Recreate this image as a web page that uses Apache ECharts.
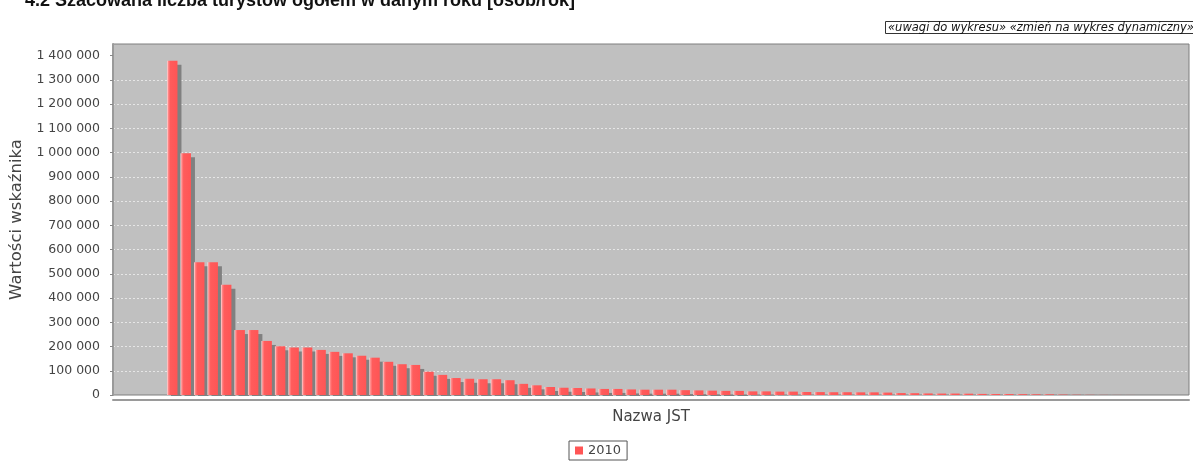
<!DOCTYPE html>
<html><head><meta charset="utf-8">
<script src="https://cdn.jsdelivr.net/npm/echarts@6/dist/echarts.min.js"></script>
<style>html,body{margin:0;padding:0;background:#fff}#c{width:1193px;height:462px}</style>
</head><body><div id="c"></div>
<script>
const titleText = '4.2 Szacowana liczba turystów ogółem w danym roku [osób/rok]';
const linksText = '«uwagi do wykresu» «zmień na wykres dynamiczny»';
const seriesName = '2010';
const yAxisName = 'Wartości wskaźnika';
const xAxisName = 'Nazwa JST';
const categories = ['1','2','3','4','5','6','7','8','9','10','11','12','13','14','15','16','17','18','19','20',
  '21','22','23','24','25','26','27','28','29','30','31','32','33','34','35','36','37','38','39','40',
  '41','42','43','44','45','46','47','48','49','50','51','52','53','54','55','56','57','58','59','60',
  '61','62','63','64','65','66','67','68','69','70','71','72'];
const values2010 = [1379000, 997000, 548000, 548000, 455000, 268000, 268000, 223000, 201000, 196000,
  196000, 186000, 178000, 172000, 162000, 154000, 137000, 127000, 124000, 96000,
  83000, 70000, 67000, 65000, 65000, 61000, 46000, 40000, 33000, 30000,
  29000, 27000, 25000, 25000, 23000, 22000, 22000, 22000, 20000, 19000,
  18000, 17000, 17000, 15000, 15000, 14000, 14000, 12500, 12000, 11500,
  11500, 11000, 11000, 10000, 8000, 7500, 6500, 6000, 6000, 5500,
  4500, 4000, 4000, 3500, 3000, 2800, 1800, 1200, 800, 500,
  300, 200];
const yTicks = [0, 100000, 200000, 300000, 400000, 500000, 600000, 700000, 800000, 900000,
  1000000, 1100000, 1200000, 1300000, 1400000];
const yMin = 0, yMax = 1448000, yStep = 100000;

function fmt(v) { return String(v).replace(/\B(?=(\d{3})+(?!\d))/g, ' '); }

const chart = echarts.init(document.getElementById('c'), null, {renderer: 'canvas'});
chart.setOption({
  animation: false,
  backgroundColor: '#ffffff',
  title: {
    text: titleText, left: 20, top: -13,
    textStyle: {fontFamily: 'Liberation Sans', fontWeight: 'bold', fontSize: 18, color: '#111'}
  },
  legend: {
    left: 569, top: 441, orient: 'horizontal',
    data: [{name: seriesName, icon: 'rect', itemStyle: {color: '#ff5555'}}],
    itemWidth: 8, itemHeight: 8,
    borderColor: '#555', borderWidth: 1, padding: [3, 6, 3, 6],
    textStyle: {fontFamily: 'DejaVu Sans', fontSize: 13, color: '#444'}
  },
  grid: [
    {left: 113, top: 44, width: 1076, height: 351, show: true, backgroundColor: '#c0c0c0', borderColor: '#7f7f7f', borderWidth: 1},
    {left: 165.5, top: 44, width: 971, height: 351}
  ],
  xAxis: [
    {gridIndex: 0, type: 'value', min: 0, max: 1, offset: 5,
     axisLine: {show: true, onZero: false, lineStyle: {color: '#9a9a9a', width: 2}},
     axisTick: {show: false}, axisLabel: {show: false}, splitLine: {show: false},
     name: xAxisName, nameLocation: 'middle', nameGap: 10,
     nameTextStyle: {fontFamily: 'DejaVu Sans', fontSize: 15, color: '#444'}},
    {gridIndex: 1, type: 'category', data: categories, show: false}
  ],
  yAxis: [
    {gridIndex: 0, type: 'value', min: yMin, max: yMax, interval: yStep, offset: 5,
     axisLine: {show: true, lineStyle: {color: '#9a9a9a', width: 2}},
     axisTick: {show: true, length: 3, customValues: yTicks, lineStyle: {color: '#888'}},
     axisLabel: {customValues: yTicks, formatter: fmt, margin: 8, fontFamily: 'DejaVu Sans', fontSize: 12.5, color: '#444'},
     splitLine: {show: true, showMinLine: false, showMaxLine: false, lineStyle: {color: '#e6e6e6', type: [2, 2], width: 1}},
     name: yAxisName, nameLocation: 'middle', nameGap: 78,
     nameTextStyle: {fontFamily: 'DejaVu Sans', fontSize: 16.5, color: '#444'}},
    {gridIndex: 1, type: 'value', min: yMin, max: yMax, show: false, splitLine: {show: false}}
  ],
  series: [{
    name: seriesName, type: 'bar', xAxisIndex: 1, yAxisIndex: 1,
    data: values2010, barWidth: '77.5%',
    itemStyle: {
      color: {type: 'linear', x: 0, y: 0, x2: 1, y2: 0, colorStops: [
        {offset: 0, color: '#ffe0e0'}, {offset: 0.12, color: '#ff8a8a'},
        {offset: 0.3, color: '#ff5c5c'}, {offset: 1, color: '#ff5555'}]},
      shadowColor: '#808080', shadowBlur: 0, shadowOffsetX: 4, shadowOffsetY: 4
    },
    emphasis: {disabled: true}
  }],
  graphic: [
    {type: 'rect', z: 100, silent: true, shape: {x: 113, y: 396, width: 1080, height: 3}, style: {fill: '#ffffff'}},
    {type: 'rect', z: 100, silent: true, shape: {x: 885.5, y: 21.5, width: 320, height: 12}, style: {fill: '#ffffff', stroke: '#333', lineWidth: 1}},
    {type: 'text', z: 101, silent: true, x: 888, y: 22, style: {text: linksText, font: 'italic 11.5px "DejaVu Sans"', fill: '#111'}}
  ]
});
</script></body></html>
